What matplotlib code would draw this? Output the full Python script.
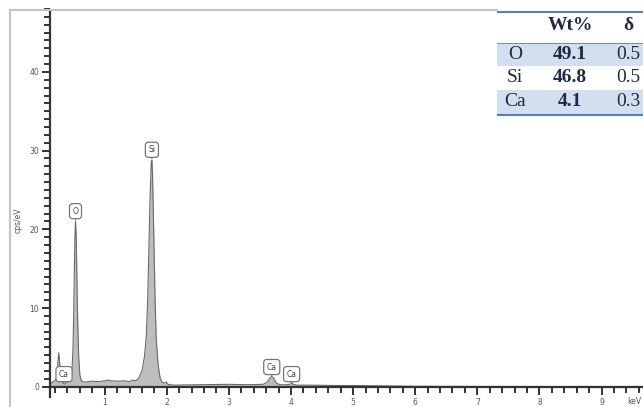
import matplotlib
matplotlib.use("Agg")
import matplotlib.pyplot as plt
from matplotlib.lines import Line2D
from matplotlib.patches import Rectangle
import numpy as np

# spectrum (keV, cps/eV)
energy = [0.12, 0.16, 0.20, 0.23, 0.245, 0.26, 0.275, 0.29, 0.32, 0.35, 0.38, 0.42,
          0.45, 0.47, 0.49, 0.50, 0.51, 0.52, 0.53, 0.54, 0.55, 0.56, 0.58, 0.60, 0.62,
          0.65, 0.70, 0.80, 0.90, 1.00, 1.05, 1.10, 1.20, 1.30, 1.40, 1.45, 1.50, 1.55,
          1.60, 1.64, 1.67, 1.69, 1.71, 1.73, 1.75, 1.76, 1.77, 1.79, 1.81, 1.83, 1.86,
          1.89, 1.92, 1.95, 1.99, 2.02, 2.10, 2.50, 3.00, 3.30, 3.55, 3.62, 3.66, 3.69,
          3.72, 3.76, 3.82, 3.92, 3.98, 4.01, 4.04, 4.10, 4.30, 4.70, 5.00, 5.50, 6.00,
          7.00, 8.00, 9.70]
cps = [0.3, 0.6, 0.8, 1.2, 3.0, 4.3, 3.0, 1.0, 0.6, 0.3, 0.5, 0.6,
       0.8, 1.5, 5.0, 9.0, 14.0, 19.0, 21.0, 19.5, 15.0, 10.0, 4.0, 1.5, 0.8,
       0.6, 0.6, 0.7, 0.65, 0.75, 0.85, 0.75, 0.7, 0.75, 0.65, 0.85, 0.75, 1.1,
       2.0, 3.8, 6.5, 10.5, 17.0, 24.0, 28.5, 28.8, 27.0, 19.5, 11.5, 6.0, 2.8,
       1.2, 0.6, 0.45, 0.6, 0.3, 0.2, 0.25, 0.3, 0.25, 0.3, 0.6, 1.1, 1.3,
       1.1, 0.5, 0.25, 0.25, 0.3, 0.45, 0.3, 0.2, 0.2, 0.15, 0.15, 0.1, 0.05,
       0.03, 0.02, 0.02]

# peak labels
label_names = ["Ca", "O", "Si", "Ca", "Ca"]
label_keV = [0.345, 0.53, 1.76, 3.69, 4.01]
label_cps = [0.5, 21.2, 29.0, 1.4, 0.5]

# quantification table
elements = ["O", "Si", "Ca"]
wt_pct = ["49.1", "46.8", "4.1"]
sigma = ["0.5", "0.5", "0.3"]

W, H = 643, 407
fig = plt.figure(figsize=(W / 100, H / 100), dpi=100)

# pixel mapping of the plot area
x0_px, keV_px = 42.6, 62.1
y0_px, cps_px = 386.7, 7.87
ax_left = 50
ax = fig.add_axes([ax_left / W, 0, (W - ax_left) / W, 1])
ax.set_xlim((ax_left - x0_px) / keV_px, (W - x0_px) / keV_px)
ax.set_ylim(-(H - y0_px) / cps_px, y0_px / cps_px)

ax.fill_between(energy, cps, 0, color="#bdbdbd", lw=0)
ax.plot(energy, cps, color="#6a6a6a", lw=0.8)

for s in ["top", "right"]:
    ax.spines[s].set_visible(False)
ax.spines["bottom"].set_position(("data", 0))
ax.spines["left"].set_bounds(-1.3, (y0_px - 10) / cps_px)
for s in ["left", "bottom"]:
    ax.spines[s].set_linewidth(1.6)
    ax.spines[s].set_color("#333333")

ax.set_xticks(np.arange(1, 10))
ax.set_xticks(np.arange(0.2, 9.7, 0.2), minor=True)
ax.set_yticks([0, 10, 20, 30, 40])
ax.set_yticks(np.arange(0, 49, 1), minor=True)
ax.tick_params(axis="both", which="major", length=6, width=1.4, color="#333333",
               labelsize=5.5, labelcolor="#555555", pad=2)
ax.tick_params(axis="both", which="minor", length=4, width=1.4, color="#333333")
ax.set_ylabel("cps/eV", fontsize=5.5, color="#555555")
ax.yaxis.set_label_coords(-0.046, 0.46)
ax.text((627 - x0_px) / keV_px, -1.9, "keV", fontsize=5.5, color="#555555",
        ha="left", va="center", clip_on=False)

for name, e, h in zip(label_names, label_keV, label_cps):
    ax.annotate(name, xy=(e, h), xytext=(0, 3), textcoords="offset points",
                ha="center", va="bottom", fontsize=5.5, color="#444444",
                bbox=dict(boxstyle="round,pad=0.4", fc="white", ec="#777777", lw=0.9),
                arrowprops=dict(arrowstyle="-", color="#777777", lw=0.9,
                                shrinkA=0, shrinkB=0))

# grey frame of the pasted picture
fig.add_artist(Line2D([10 / W, 10 / W], [0, 1 - 10 / H], color="#c4c4c4", lw=1.5))
fig.add_artist(Line2D([10 / W, 497 / W], [1 - 10 / H, 1 - 10 / H], color="#c4c4c4", lw=1.5))

# table in pixel space
tab = fig.add_axes([497 / W, 1 - 120 / H, (W - 497) / W, 112 / H])
tab.set_xlim(497, W)
tab.set_ylim(120, 8)
tab.axis("off")
row_top = [43, 66, 90]
row_h = [23, 24, 24]
fills = ["#d3dff0", "white", "#d3dff0"]
for yt, hh, fc in zip(row_top, row_h, fills):
    tab.add_patch(Rectangle((497, yt), W - 497, hh, fc=fc, ec="none"))
tab.plot([497, W], [12, 12], color="#4f81bd", lw=1.5)
tab.plot([497, W], [43, 43], color="#4f81bd", lw=0.6)
tab.plot([497, W], [115, 115], color="#4f81bd", lw=1.5)
txt = dict(family="Liberation Serif", fontsize=14, color="#1f2a44", va="center", ha="center")
tab.text(570, 26, "Wt%", fontweight="bold", **txt)
tab.text(628, 26, "δ", fontweight="bold", **txt)
for yt, hh, el, w, d in zip(row_top, row_h, elements, wt_pct, sigma):
    yc = yt + hh / 2
    tab.text(515, yc, el, **txt)
    tab.text(570, yc, w, fontweight="bold", **txt)
    tab.text(628, yc, d, **txt)

fig.savefig("out.png", dpi=100)
